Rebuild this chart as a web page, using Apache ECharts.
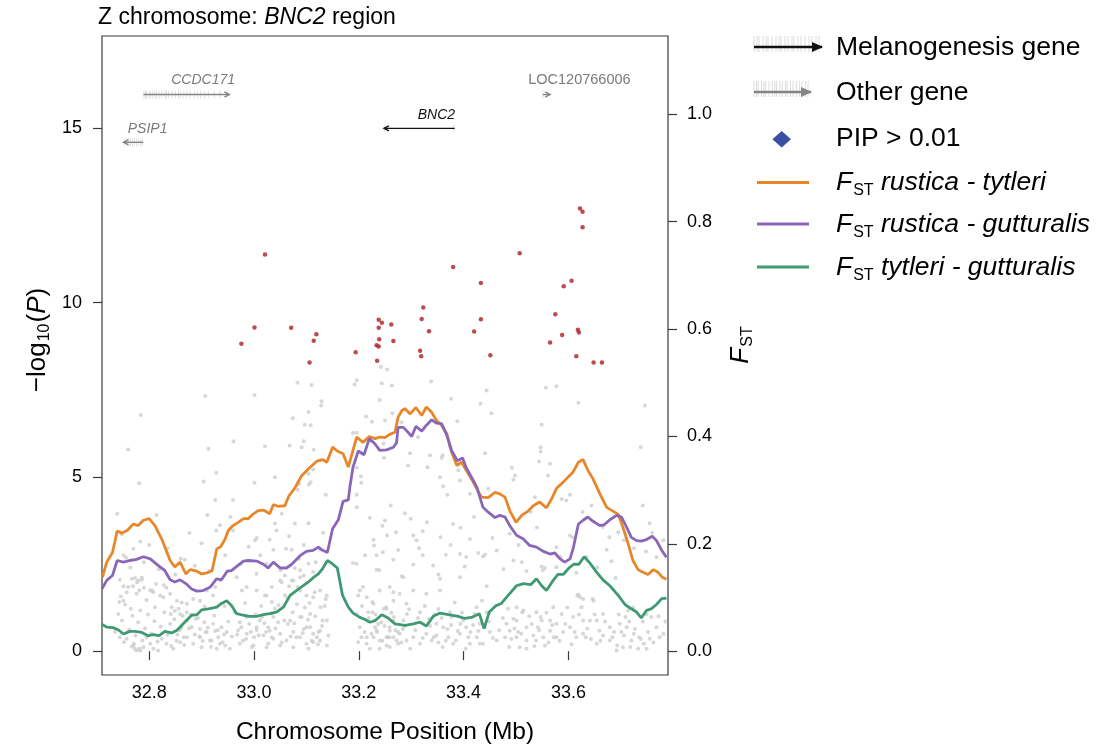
<!DOCTYPE html>
<html>
<head>
<meta charset="utf-8">
<title>Z chromosome: BNC2 region</title>
<script src="https://cdn.jsdelivr.net/npm/echarts@6/dist/echarts.min.js"></script>
<style>
  html, body { margin: 0; padding: 0; background: #fff; }
  #chart { width: 1102px; height: 752px; }
</style>
</head>
<body>
<div id="chart"></div>
<script>
// ---- association results: [position (Mb), -log10(P)] ----
const snpsBackground = [
  [32.784,6.78],[32.760,5.79],[32.781,4.82],[32.907,7.32],[32.913,5.81],[32.928,5.12],[32.904,4.87],[32.961,6.02],[33.001,7.35],[33.001,4.83],[33.021,5.88],[33.040,4.99],[33.083,7.70],[33.110,7.64],[33.074,6.68],[33.068,5.90],[33.104,6.86],[33.097,6.50],[33.108,6.48],[33.095,6.02],[33.091,5.85],[33.114,5.78],[33.129,7.17],[33.128,7.05],[33.113,5.21],[33.104,5.09],[33.108,4.85],[33.105,4.78],[33.086,4.80],[33.083,4.63],[33.137,4.49],[33.192,7.65],[33.196,7.77],[33.214,6.73],[33.225,6.58],[33.189,6.26],[33.196,6.27],[33.204,5.02],[33.205,4.83],[33.196,5.26],[33.196,4.49],[33.242,8.15],[33.254,8.08],[33.244,7.69],[33.263,7.62],[33.240,7.21],[33.264,6.83],[33.247,5.95],[33.248,5.55],[32.926,4.34],[32.960,4.34],
  [33.338,7.74],[33.557,7.56],[33.577,7.60],[33.444,7.48],[33.432,7.10],[33.376,7.24],[33.453,6.83],[33.619,7.13],[33.746,7.05],[33.250,6.62],[33.282,6.57],[33.388,6.60],[33.549,6.50],[33.313,6.14],[33.298,5.68],[33.336,5.62],[33.360,5.62],[33.358,5.55],[33.374,5.87],[33.441,5.68],[33.547,5.85],[33.547,5.73],[33.738,5.85],[33.294,5.33],[33.331,5.28],[33.355,4.99],[33.390,5.19],[33.492,5.26],[33.498,5.04],[33.495,4.92],[33.544,5.44],[33.565,5.38],[33.561,5.04],[33.261,4.18],[33.288,3.96],[33.299,3.80],[33.361,4.73],[33.369,4.49],[33.393,4.90],[33.447,4.66],[33.412,4.52],[33.528,3.99],[33.536,4.42],[33.587,4.37],[33.603,4.49],[33.596,4.32],[33.627,3.99],[33.644,4.18],[33.742,4.18],[33.755,3.67],[33.695,3.41],[33.678,3.27],[33.221,3.83],[33.271,3.41],[33.254,3.32],[33.322,3.44],[33.310,3.18],[33.356,3.27],[33.394,3.54],[33.428,2.82],[33.441,2.77],[33.437,2.72],[33.366,2.77],[33.393,2.79],[33.322,2.75],[33.246,2.84],[33.234,2.75],[33.304,2.49],[33.342,2.46],[33.282,2.15],[33.495,2.60],[33.511,2.55],[33.555,2.39],[33.577,2.41],[33.608,3.27],[33.682,2.58],[33.706,3.18],[33.748,2.86],[33.228,3.20],[33.229,3.03],
  [32.739,3.94],[32.814,3.91],[32.911,3.91],[33.196,4.13],[32.877,3.39],[32.783,3.15],[32.770,2.94],[32.928,3.46],[32.935,3.61],[32.960,3.46],[33.002,3.18],[33.005,3.25],[33.043,3.46],[33.040,3.66],[33.053,3.94],[33.078,3.66],[33.061,2.94],[33.037,2.91],[33.104,3.67],[33.189,2.53],[33.196,2.51],[33.234,2.34],[33.266,2.62],[33.126,2.91],[33.072,2.91],[32.860,2.65],[32.868,2.62],[32.751,2.75],[32.756,2.68],
  [32.744,2.05],[32.767,2.08],[32.779,2.03],[32.786,2.11],[32.802,1.74],[32.808,1.69],[32.760,1.84],[32.776,1.65],[32.795,1.47],[32.751,1.45],[32.765,1.22],[32.741,1.07],[32.783,1.17],[32.811,1.26],[32.827,1.55],[32.840,1.65],[32.853,1.45],[32.872,1.36],[32.859,1.07],[32.843,1.26],[32.884,1.50],[32.897,1.45],[32.910,1.74],[32.922,1.60],[32.926,1.84],[32.935,2.03],[32.967,2.12],[32.977,1.74],[32.986,1.84],[33.005,1.74],[33.024,1.60],[33.034,1.84],[33.050,2.03],[33.059,1.60],[33.072,2.03],[33.088,1.74],[33.100,1.60],[33.113,1.55],[33.126,1.74],[33.139,1.60],[33.024,2.51],[33.050,2.32],[33.088,2.32],[33.005,2.22],
  [32.770,0.16],[32.773,0.07],[32.783,0.02],[32.789,0.11],[32.802,0.21],[32.808,0.07],[32.817,0.02],[32.833,0.21],[32.846,0.07],[32.744,0.40],[32.757,0.36],[32.795,0.40],[32.824,0.36],[32.859,0.26],[32.872,0.40],[32.884,0.21],[32.897,0.40],[32.900,0.11],[32.916,0.31],[32.929,0.07],[32.945,0.16],[32.954,0.07],[32.840,0.79],[32.859,0.64],[32.872,0.88],[32.897,0.64],[32.910,0.55],[32.922,0.79],[32.938,0.69],[32.948,0.55],[32.973,0.83],[32.986,0.50],[33.005,0.69],[33.018,0.45],[33.030,0.59],[33.037,0.36],[33.050,0.50],[33.062,0.31],[33.075,0.55],[33.088,0.40],[33.100,0.69],[33.113,0.50],[33.126,0.59],[33.126,0.31],[33.100,0.21],[33.075,0.11],[33.050,0.16],[33.024,0.11],[32.999,0.16],[32.973,0.21],[33.139,0.88],[33.069,0.88],[33.088,0.98],[33.107,1.07],[33.037,0.98],[33.011,0.88],[32.986,0.98],[33.196,1.07],[33.202,0.69],[33.215,0.40],[33.199,0.26],[33.221,0.07],[33.240,0.07],[33.253,0.40],[33.234,0.59],[33.259,0.59],[33.272,0.31],[33.253,1.22],[33.228,1.36],[33.215,1.55],[33.202,1.74],[33.240,1.74],[33.266,1.69],[33.266,1.45],
  [33.285,2.12],[33.239,2.32],[33.259,1.84],[33.278,1.65],[33.304,1.74],[33.329,1.65],[33.355,1.74],[33.355,2.08],[33.393,2.12],[33.402,2.43],[33.444,1.86],[33.549,2.43],[33.551,2.32],[33.603,3.32],[33.619,1.62],[33.628,1.50],[33.646,1.50],[33.673,2.91],[33.714,1.17],[33.723,1.26],[33.749,1.07],[33.758,0.98],[33.774,0.40],[33.755,0.36],[33.749,0.07],[33.733,0.07],[33.720,0.31],[33.704,0.11],[33.692,0.02],[33.679,0.31],[33.666,0.45],[33.654,0.21],[33.628,0.50],[33.615,0.40],[33.603,0.69],[33.590,0.55],[33.577,0.40],[33.565,0.59],[33.552,0.40],[33.542,0.69],[33.533,0.45],[33.520,0.31],[33.507,0.11],[33.501,0.40],[33.488,0.59],[33.482,0.79],[33.463,0.31],[33.450,0.55],[33.437,0.21],[33.425,0.40],[33.412,0.21],[33.405,0.69],[33.393,0.50],[33.380,0.21],[33.371,0.40],[33.361,0.69],[33.348,0.45],[33.339,0.31],[33.329,0.50],[33.317,0.21],[33.304,0.40],[33.291,0.31],[33.278,0.50],[33.266,0.40],[33.253,0.16],[33.228,0.40],[33.231,0.69],[33.259,0.69],[33.285,0.88],[33.348,0.79],[33.399,0.88],[33.431,0.79],[33.501,0.88],[33.520,0.69],[33.549,0.88],[33.577,0.79],[33.628,0.88],[33.654,0.88],[33.679,0.69],[33.698,0.79],[33.711,0.69],[33.587,1.07],[33.609,0.98],[33.539,1.12],[33.514,1.17],[33.501,1.26],[33.485,1.22],[33.444,1.12],[33.425,1.26],[33.374,1.12],[33.317,1.12],[33.291,1.36],[33.571,1.26],[33.622,1.55],[33.781,0.50],[33.768,0.69],
  [32.769,1.86],[32.773,2.10],[32.781,1.74],[32.786,2.05],[32.777,1.98],[32.790,1.82],[32.746,1.57],[32.751,1.86],[32.754,1.34],[32.743,1.41],[32.757,1.69],[32.767,0.13],[32.771,0.21],[32.776,0.02],[32.781,0.07],
  [32.805,1.74],[32.813,1.93],[32.821,1.60],[32.828,1.89],[32.833,1.82],[32.841,1.07],[32.849,1.15],[32.856,1.22],[32.864,1.02],[32.872,1.12],[32.854,0.48],[32.862,0.69],[32.866,0.40],[32.858,0.61],
  [32.881,0.69],[32.889,0.93],[32.896,0.42],[32.905,0.83],[32.908,0.55],[32.919,0.31],[32.926,0.58],[32.935,0.21],[32.943,0.48],[32.932,0.40],[32.968,0.48],[32.976,0.69],[32.985,0.35],[32.994,0.55],[33.000,0.40],[33.005,0.61],
  [33.015,0.98],[33.021,1.60],[33.027,0.69],[33.034,1.41],[33.040,1.22],[33.046,0.83],[33.023,0.55],[33.034,0.40],[33.053,1.98],[33.059,2.17],[33.067,1.86],[33.075,2.03],[33.083,1.84],[33.088,2.12],
  [33.065,0.78],[33.074,1.12],[33.081,0.40],[33.091,0.98],[33.095,0.64],[33.104,0.07],[33.113,0.26],[33.123,0.55],[33.131,0.88],[33.139,0.16],[33.120,0.40],[33.107,0.69],[33.106,1.38],[33.116,1.69],[33.127,1.26],[33.137,1.50],
  [33.078,2.39],[33.086,2.65],[33.095,2.17],[33.104,2.51],[33.113,2.27],[33.199,1.60],[33.208,1.84],[33.218,1.12],[33.226,1.41],[33.237,0.78],[33.248,1.22],[33.256,0.40],[33.266,0.88],[33.275,0.55],[33.205,0.40],[33.215,0.21],[33.224,0.50],[33.240,0.31],[33.259,0.12],
  [33.226,1.12],[33.235,0.55],[33.243,0.83],[33.252,1.26],[33.258,0.40],[33.267,0.98],[33.275,0.21],[33.284,0.64],[33.292,1.07],[33.298,0.07],[33.334,0.93],[33.343,0.40],[33.352,1.21],[33.360,0.12],[33.369,0.64],[33.377,0.98],[33.385,0.31],[33.394,0.78],[33.404,0.07],[33.413,0.55],[33.421,1.07],[33.431,0.21],[33.441,0.69],
  [33.479,0.40],[33.487,0.12],[33.495,0.93],[33.504,0.55],[33.512,1.12],[33.520,0.07],[33.530,0.78],[33.538,0.31],[33.547,0.98],[33.555,0.16],[33.565,0.88],[33.572,0.40],[33.617,1.60],[33.625,1.26],[33.633,0.40],[33.641,0.88],[33.648,1.45],[33.659,0.59],[33.666,1.07],
  [33.684,0.40],[33.693,0.16],[33.701,0.55],[33.709,0.98],[33.718,0.12],[33.727,0.64],[33.735,0.40],[33.744,0.21],[33.752,0.55],
  [33.250,3.75],[33.304,3.32],[33.380,3.65],[33.412,3.22],[33.463,2.89],[33.488,3.37],[33.577,2.98],[33.635,2.70],[33.666,3.56],[33.768,2.70],[33.781,3.18],
  [32.735,0.55],[32.748,0.88],[32.752,0.26],[32.762,0.62],[32.768,1.02],[32.774,0.45],[32.779,0.83],[32.787,0.31],[32.792,0.66],[32.798,1.05],[32.804,0.50],[32.810,0.86],[32.816,0.28],[32.822,0.71],[32.829,1.12],[32.835,0.47],[32.842,0.15],[32.848,0.92],[32.852,0.30],[32.862,1.40],[32.867,0.18],[32.876,0.66],[32.880,1.05],[32.887,0.48],[32.893,0.95],[32.902,0.29],[32.906,1.28],[32.912,0.68],[32.918,0.12],[32.924,1.02],[32.931,0.60],[32.940,0.26],[32.944,1.30],[32.951,0.85],[32.958,0.42],[32.963,1.12],[32.970,0.60],[32.979,0.30],[32.983,1.38],[32.991,0.78],[32.996,0.12],[33.003,1.05],[33.009,0.46],[33.014,1.30],[33.020,0.80],[33.027,0.22],[33.033,1.08],[33.041,0.65],[33.047,1.32],[33.053,0.25],[33.058,0.88],[33.064,1.52],[33.070,0.42],[33.077,0.80],[33.082,1.35],[33.093,0.52],[33.097,1.25],[33.103,0.90],[33.110,0.30],[33.117,1.00],[33.122,0.20],[33.130,0.72],[33.135,1.30],[33.142,0.45],
  [33.206,1.30],[33.211,0.55],[33.219,0.95],[33.232,1.05],[33.245,0.30],[33.249,0.72],[33.262,1.10],[33.270,0.60],[33.281,0.25],[33.288,0.72],[33.296,1.20],[33.308,0.60],[33.313,0.95],[33.322,0.38],[33.326,1.30],[33.336,0.72],[33.345,1.05],[33.352,0.25],[33.358,0.95],[33.366,0.30],[33.376,0.75],[33.383,1.40],[33.389,0.58],[33.397,1.10],[33.409,0.40],[33.418,0.75],[33.428,0.58],[33.435,1.45],[33.448,0.85],[33.456,0.38],[33.468,0.60],[33.475,0.95],[33.491,0.35],[33.497,0.65],[33.510,0.50],[33.525,1.00],[33.535,0.15],[33.544,0.60],[33.558,1.10],[33.562,0.25],[33.569,0.75],[33.583,0.30],[33.594,0.78],[33.598,1.25],[33.606,0.20],[33.612,0.55],[33.620,1.05],[33.636,0.65],[33.643,0.35],[33.650,1.05],[33.661,0.30],[33.670,0.85],[33.687,0.55],[33.696,1.05],[33.706,0.45],[33.716,0.85],[33.725,0.50],[33.738,0.35],[33.742,0.85],[33.762,0.25],[33.772,1.00],[33.785,0.85],
  [32.748,3.35],[32.764,2.40],[32.790,2.55],[32.800,3.05],[32.818,2.35],[32.835,2.95],[32.850,2.20],[32.887,2.45],[32.900,3.10],[32.915,2.30],[32.945,2.75],[32.955,3.85],[32.975,2.50],[32.990,3.00],[33.012,2.75],[33.030,3.20],[33.067,3.30],[33.095,3.05],[33.118,2.55],[33.132,3.40],[33.212,2.75],[33.245,3.60],[33.275,2.90],[33.315,2.95],[33.330,3.70],[33.352,2.20],[33.375,3.05],[33.405,2.70],[33.420,3.85],[33.455,3.25],[33.476,2.35],[33.505,3.05],[33.520,2.30],[33.540,3.55],[33.585,2.70],[33.615,2.25],[33.655,2.40],[33.690,2.10],[33.725,2.95],[33.760,3.40]
];

// SNPs with PIP > 0.01
const snpsCredible = [
  [33.021,11.38],[33.001,9.29],[32.976,8.82],[33.071,9.28],[33.119,9.09],[33.114,8.91],[33.106,8.28],[33.194,8.58],[33.238,9.51],[33.244,9.42],[33.238,9.28],[33.262,9.37],[33.239,8.95],[33.266,8.90],[33.234,8.78],[33.238,8.74],[33.235,8.33],[33.323,9.86],[33.320,9.53],[33.334,9.18],[33.317,8.62],[33.319,8.46],[33.380,11.02],[33.433,10.56],[33.433,9.52],[33.420,9.17],[33.451,8.49],[33.507,11.42],[33.606,10.63],[33.591,10.47],[33.575,9.67],[33.588,9.07],[33.565,8.86],[33.618,9.22],[33.620,9.14],[33.615,8.46],[33.648,8.28],[33.664,8.28],[33.622,12.70],[33.627,12.61],[33.627,12.16]
];

// ---- windowed FST: [position (Mb), FST] ----
const fstRusticaTytleri = [
  [32.711,0.138],[32.719,0.166],[32.730,0.184],[32.739,0.224],[32.748,0.220],[32.758,0.225],[32.770,0.237],[32.779,0.234],[32.789,0.244],[32.800,0.247],[32.811,0.234],[32.824,0.209],[32.840,0.169],[32.849,0.157],[32.859,0.166],[32.870,0.144],[32.878,0.152],[32.891,0.149],[32.900,0.144],[32.910,0.146],[32.920,0.150],[32.929,0.191],[32.936,0.194],[32.945,0.209],[32.951,0.225],[32.960,0.234],[32.970,0.240],[32.980,0.247],[32.989,0.247],[32.999,0.256],[33.008,0.262],[33.018,0.263],[33.030,0.256],[33.037,0.273],[33.046,0.270],[33.059,0.271],[33.067,0.290],[33.078,0.304],[33.091,0.327],[33.104,0.340],[33.120,0.354],[33.131,0.357],[33.139,0.352],[33.150,0.380],[33.159,0.373],[33.170,0.368],[33.180,0.343],[33.196,0.399],[33.208,0.389],[33.220,0.400],[33.231,0.396],[33.240,0.399],[33.250,0.398],[33.259,0.404],[33.269,0.408],[33.275,0.436],[33.282,0.448],[33.288,0.452],[33.298,0.442],[33.309,0.454],[33.320,0.439],[33.329,0.455],[33.339,0.445],[33.348,0.430],[33.358,0.421],[33.368,0.405],[33.377,0.371],[33.387,0.346],[33.396,0.352],[33.405,0.337],[33.415,0.321],[33.425,0.303],[33.434,0.287],[33.447,0.286],[33.460,0.296],[33.469,0.293],[33.479,0.287],[33.488,0.262],[33.500,0.240],[33.511,0.253],[33.523,0.261],[33.533,0.271],[33.545,0.278],[33.558,0.267],[33.568,0.284],[33.577,0.303],[33.590,0.315],[33.599,0.324],[33.609,0.334],[33.619,0.352],[33.628,0.357],[33.637,0.337],[33.647,0.321],[33.660,0.293],[33.673,0.268],[33.685,0.261],[33.695,0.255],[33.704,0.231],[33.714,0.200],[33.723,0.169],[33.733,0.152],[33.742,0.147],[33.752,0.143],[33.762,0.152],[33.771,0.147],[33.779,0.138],[33.787,0.134]
];
const fstRusticaGutturalis = [
  [32.710,0.116],[32.719,0.132],[32.730,0.141],[32.739,0.169],[32.751,0.166],[32.763,0.169],[32.776,0.171],[32.789,0.176],[32.802,0.172],[32.817,0.160],[32.830,0.150],[32.840,0.133],[32.849,0.129],[32.859,0.133],[32.870,0.126],[32.881,0.116],[32.891,0.112],[32.903,0.113],[32.916,0.119],[32.929,0.135],[32.938,0.133],[32.949,0.149],[32.957,0.150],[32.967,0.158],[32.980,0.168],[32.989,0.169],[33.005,0.168],[33.018,0.162],[33.027,0.155],[33.037,0.166],[33.050,0.155],[33.062,0.155],[33.072,0.162],[33.088,0.178],[33.100,0.186],[33.113,0.188],[33.123,0.194],[33.131,0.188],[33.140,0.184],[33.150,0.228],[33.161,0.245],[33.170,0.279],[33.180,0.282],[33.183,0.306],[33.189,0.343],[33.199,0.373],[33.210,0.366],[33.220,0.396],[33.231,0.386],[33.240,0.374],[33.253,0.375],[33.266,0.380],[33.272,0.388],[33.275,0.417],[33.285,0.417],[33.292,0.410],[33.301,0.400],[33.309,0.419],[33.320,0.410],[33.329,0.421],[33.339,0.431],[33.348,0.425],[33.358,0.424],[33.368,0.402],[33.377,0.374],[33.388,0.355],[33.398,0.360],[33.405,0.342],[33.415,0.324],[33.425,0.306],[33.437,0.268],[33.447,0.259],[33.460,0.249],[33.469,0.253],[33.479,0.250],[33.488,0.234],[33.501,0.216],[33.514,0.209],[33.526,0.197],[33.539,0.194],[33.552,0.186],[33.565,0.181],[33.574,0.183],[33.584,0.172],[33.593,0.166],[33.603,0.172],[33.609,0.191],[33.619,0.237],[33.628,0.244],[33.637,0.250],[33.647,0.242],[33.660,0.234],[33.669,0.236],[33.679,0.245],[33.692,0.253],[33.701,0.250],[33.711,0.231],[33.720,0.212],[33.730,0.206],[33.739,0.205],[33.749,0.208],[33.760,0.214],[33.768,0.206],[33.778,0.188],[33.787,0.175]
];
const fstTytleriGutturalis = [
  [32.710,0.050],[32.719,0.045],[32.731,0.044],[32.741,0.040],[32.751,0.032],[32.763,0.037],[32.773,0.037],[32.786,0.035],[32.798,0.029],[32.808,0.031],[32.819,0.029],[32.830,0.037],[32.843,0.034],[32.853,0.039],[32.865,0.051],[32.881,0.067],[32.891,0.068],[32.900,0.077],[32.913,0.079],[32.929,0.082],[32.938,0.089],[32.948,0.094],[32.957,0.085],[32.967,0.070],[32.980,0.067],[32.992,0.065],[33.005,0.065],[33.018,0.068],[33.030,0.070],[33.043,0.073],[33.056,0.082],[33.069,0.104],[33.081,0.113],[33.094,0.122],[33.104,0.129],[33.113,0.137],[33.123,0.144],[33.131,0.154],[33.140,0.169],[33.148,0.164],[33.159,0.155],[33.169,0.104],[33.180,0.082],[33.189,0.071],[33.202,0.063],[33.212,0.059],[33.221,0.054],[33.231,0.057],[33.244,0.068],[33.256,0.062],[33.269,0.051],[33.288,0.048],[33.304,0.051],[33.317,0.054],[33.329,0.047],[33.342,0.065],[33.355,0.071],[33.371,0.068],[33.390,0.065],[33.402,0.061],[33.415,0.063],[33.430,0.070],[33.439,0.042],[33.449,0.073],[33.462,0.085],[33.472,0.089],[33.485,0.104],[33.501,0.122],[33.514,0.126],[33.528,0.124],[33.539,0.135],[33.549,0.122],[33.558,0.113],[33.571,0.132],[33.580,0.143],[33.590,0.143],[33.601,0.155],[33.610,0.162],[33.620,0.162],[33.630,0.176],[33.641,0.164],[33.654,0.147],[33.666,0.133],[33.679,0.122],[33.695,0.104],[33.708,0.087],[33.720,0.079],[33.730,0.073],[33.739,0.062],[33.749,0.076],[33.758,0.079],[33.768,0.087],[33.778,0.098],[33.787,0.099]
];

// ---- gene annotation ----
const geneNames   = ['CCDC171', 'PSIP1', 'BNC2', 'LOC120766006'];
const geneStart   = [32.789, 32.751, 33.248, 33.551];
const geneEnd     = [32.953, 32.789, 33.383, 33.565];
const geneStrand  = [1, -1, -1, 1];
const geneLevel   = [15.97, 14.60, 15.00, 15.97];       // track row on the -log10(P) scale
const geneLabelAt = [[32.903, 16.38], [32.797, 14.99], [33.348, 15.37], [33.621, 16.38]];
const geneMelanogenesis = [false, false, true, false];
const geneExons = [
  [32.790,32.793,32.795,32.800,32.803,32.807,32.811,32.814,32.819,32.824,32.830,32.833,32.837,32.844,32.850,32.856,32.860,32.866,32.872,32.878,32.886,32.892,32.898,32.906,32.913,32.924,32.935],
  [32.753,32.757,32.760,32.764,32.768,32.772,32.776,32.780,32.784,32.787],
  [33.250,33.381],
  [33.551]
];

// ---- axes ----
const xTicks = [32.8, 33.0, 33.2, 33.4, 33.6];
const pTicks = [0, 5, 10, 15];
const fstTicks = [0.0, 0.2, 0.4, 0.6, 0.8, 1.0];

const FONT = '"Liberation Sans", Arial, Helvetica, sans-serif';
const C_ORANGE = '#e8872a', C_PURPLE = '#8a66b8', C_GREEN = '#3f9a74';
const C_RED = '#ad1f26', C_GREY_PT = '#cdcdcd';

const chart = echarts.init(document.getElementById('chart'), null, { renderer: 'canvas' });

function geneRenderItem(params, api) {
  const i = params.dataIndex;
  const melano = geneMelanogenesis[i];
  const col = melano ? '#111111' : '#858585';
  const a = api.coord([geneStart[i], geneLevel[i]]);
  const b = api.coord([geneEnd[i], geneLevel[i]]);
  const kids = [];
  geneExons[i].forEach(e => {
    const p = api.coord([e, geneLevel[i]]);
    kids.push({ type: 'line', shape: { x1: p[0], y1: p[1] - 4, x2: p[0], y2: p[1] + 4 },
                style: { stroke: '#d2d2d2', lineWidth: 0.7 } });
  });
  kids.push({ type: 'line', shape: { x1: a[0], y1: a[1], x2: b[0], y2: b[1] },
              style: { stroke: col, lineWidth: 1.4 } });
  const tip = geneStrand[i] > 0 ? b : a;
  const d = geneStrand[i] > 0 ? 1 : -1;
  kids.push({ type: 'polyline',
              shape: { points: [[tip[0] - d * 5, tip[1] - 2.6], [tip[0], tip[1]], [tip[0] - d * 5, tip[1] + 2.6]] },
              style: { stroke: col, fill: null, lineWidth: 1.4 } });
  const lp = api.coord(geneLabelAt[i]);
  const isLoc = geneNames[i].startsWith('LOC');
  kids.push({ type: 'text', x: lp[0], y: lp[1],
              style: { text: geneNames[i], fill: melano ? '#111111' : '#7a7a7a',
                       font: (isLoc ? '' : 'italic ') + (isLoc ? '14.5px ' : '14px ') + FONT,
                       align: 'center', verticalAlign: 'middle' } });
  return { type: 'group', children: kids };
}

// legend drawn as graphic elements on the right
function geneLegendIcon(y, x0, x1, color) {
  const kids = [];
  const marks = [0, 3, 5, 9, 12, 14, 18, 22, 25, 27, 31, 34, 38, 40, 44, 47, 51, 55, 58, 62, 65];
  marks.forEach(m => {
    const x = x0 + m * (x1 - x0 - 4) / 65;
    kids.push({ type: 'line', shape: { x1: x, y1: y - 11, x2: x, y2: y + 5 },
                style: { stroke: '#dcdcdc', lineWidth: 1 } });
  });
  kids.push({ type: 'line', shape: { x1: x0, y1: y, x2: x1 - 1, y2: y }, style: { stroke: color, lineWidth: 2.6 } });
  kids.push({ type: 'polygon', shape: { points: [[x1, y], [x1 - 11, y - 5], [x1 - 11, y + 5]] },
              style: { fill: color } });
  return { type: 'group', children: kids };
}
const LEG_FS = 26.5;
const legendTextX = 836;
const fstRich = {
  f: { fontFamily: FONT, fontSize: LEG_FS, fontStyle: 'italic', fill: '#000' },
  s: { fontFamily: FONT, fontSize: 16, fill: '#000', padding: [15, 0, 0, 1] },
  n: { fontFamily: FONT, fontSize: LEG_FS, fontStyle: 'italic', fill: '#000' }
};
const legendGraphics = [
  geneLegendIcon(47, 754, 823, '#111111'),
  { type: 'text', x: legendTextX, y: 48, style: { text: 'Melanogenesis gene', font: LEG_FS + 'px ' + FONT, fill: '#000', verticalAlign: 'middle' } },
  geneLegendIcon(92, 754, 812, '#858585'),
  { type: 'text', x: legendTextX, y: 93, style: { text: 'Other gene', font: LEG_FS + 'px ' + FONT, fill: '#000', verticalAlign: 'middle' } },
  { type: 'polygon', shape: { points: [[781.7, 131], [791, 139.3], [781.7, 147.6], [772.4, 139.3]] }, style: { fill: '#3b4fa2' } },
  { type: 'text', x: legendTextX, y: 139, style: { text: 'PIP > 0.01', font: LEG_FS + 'px ' + FONT, fill: '#000', verticalAlign: 'middle' } },
  { type: 'line', shape: { x1: 757, y1: 182.5, x2: 809, y2: 182.5 }, style: { stroke: C_ORANGE, lineWidth: 3 } },
  { type: 'text', x: legendTextX, y: 183, style: { text: '{f|F}{s|ST}{n| rustica - tytleri}', rich: fstRich, verticalAlign: 'middle' } },
  { type: 'line', shape: { x1: 757, y1: 224, x2: 809, y2: 224 }, style: { stroke: C_PURPLE, lineWidth: 3 } },
  { type: 'text', x: legendTextX, y: 225, style: { text: '{f|F}{s|ST}{n| rustica - gutturalis}', rich: fstRich, verticalAlign: 'middle' } },
  { type: 'line', shape: { x1: 757, y1: 267, x2: 809, y2: 267 }, style: { stroke: C_GREEN, lineWidth: 3 } },
  { type: 'text', x: legendTextX, y: 268, style: { text: '{f|F}{s|ST}{n| tytleri - gutturalis}', rich: fstRich, verticalAlign: 'middle' } },
  // plot title
  { type: 'text', x: 98, y: 18, style: { text: '{a|Z chromosome: }{b|BNC2}{a| region}', verticalAlign: 'middle',
      rich: { a: { fontFamily: FONT, fontSize: 23, fill: '#000' }, b: { fontFamily: FONT, fontSize: 23, fontStyle: 'italic', fill: '#000' } } } },
  // left axis title
  { type: 'text', x: 38, y: 340, rotation: Math.PI / 2,
    style: { text: '{a|\u2212log}{s|10}{a|(}{i|P}{a|)}', align: 'center', verticalAlign: 'middle',
      rich: {
        a: { fontFamily: FONT, fontSize: 26, fill: '#000' },
        s: { fontFamily: FONT, fontSize: 16, fill: '#000', padding: [14, 1, 0, 1] },
        i: { fontFamily: FONT, fontSize: 26, fontStyle: 'italic', fill: '#000' } } } },
  // right axis title
  { type: 'text', x: 741, y: 345, rotation: Math.PI / 2,
    style: { text: '{f|F}{s|ST}', align: 'center', verticalAlign: 'middle',
      rich: {
        f: { fontFamily: FONT, fontSize: 26, fontStyle: 'italic', fill: '#000' },
        s: { fontFamily: FONT, fontSize: 16, fill: '#000', padding: [14, 0, 0, 1] } } } }
];

const option = {
  animation: false,
  backgroundColor: '#ffffff',
  grid: { left: 102, right: 434, top: 36, bottom: 77, show: true, borderColor: '#3a3a3a', borderWidth: 1.2, backgroundColor: 'transparent' },
  xAxis: {
    type: 'value', min: 32.710, max: 33.790,
    axisLine: { show: false },
    axisTick: { show: true, inside: false, length: 9, customValues: xTicks, lineStyle: { color: '#3a3a3a', width: 1.2 } },
    axisLabel: { customValues: xTicks, formatter: v => v.toFixed(1), fontFamily: FONT, fontSize: 18, color: '#000', margin: 9 },
    splitLine: { show: false },
    name: 'Chromosome Position (Mb)', nameLocation: 'middle', nameGap: 45,
    nameTextStyle: { fontFamily: FONT, fontSize: 24.5, color: '#000' }
  },
  yAxis: [
    {
      type: 'value', min: -0.683, max: 17.65, position: 'left',
      axisLine: { show: false },
      axisTick: { show: true, length: 9, customValues: pTicks, lineStyle: { color: '#3a3a3a', width: 1.2 } },
      axisLabel: { customValues: pTicks, fontFamily: FONT, fontSize: 18, color: '#000', margin: 20 },
      splitLine: { show: false }
    },
    {
      type: 'value', min: -0.0443, max: 1.146, position: 'right',
      axisLine: { show: false },
      axisTick: { show: true, length: 9, customValues: fstTicks, lineStyle: { color: '#3a3a3a', width: 1.2 } },
      axisLabel: { customValues: fstTicks, formatter: v => v.toFixed(1), fontFamily: FONT, fontSize: 18, color: '#000', margin: 19 },
      splitLine: { show: false }
    }
  ],
  series: [
    { name: 'background SNPs', type: 'scatter', yAxisIndex: 0, data: snpsBackground, symbol: 'circle', symbolSize: 4,
      itemStyle: { color: C_GREY_PT }, silent: true, z: 1, large: false },
    { name: 'rustica - tytleri', type: 'line', yAxisIndex: 1, data: fstRusticaTytleri, showSymbol: false,
      lineStyle: { color: C_ORANGE, width: 2.8 }, z: 2, silent: true },
    { name: 'rustica - gutturalis', type: 'line', yAxisIndex: 1, data: fstRusticaGutturalis, showSymbol: false,
      lineStyle: { color: C_PURPLE, width: 2.8 }, z: 2, silent: true },
    { name: 'tytleri - gutturalis', type: 'line', yAxisIndex: 1, data: fstTytleriGutturalis, showSymbol: false,
      lineStyle: { color: C_GREEN, width: 2.8 }, z: 2, silent: true },
    { name: 'PIP > 0.01', type: 'scatter', yAxisIndex: 0, data: snpsCredible, symbol: 'circle', symbolSize: 4.5,
      itemStyle: { color: C_RED }, silent: true, z: 3 },
    { name: 'genes', type: 'custom', yAxisIndex: 0, renderItem: geneRenderItem, silent: true, z: 4,
      data: geneNames.map((n, i) => [geneStart[i], geneLevel[i], geneEnd[i]]), encode: { x: [0, 2], y: 1 } }
  ],
  graphic: legendGraphics
};
chart.setOption(option);
</script>
</body>
</html>
